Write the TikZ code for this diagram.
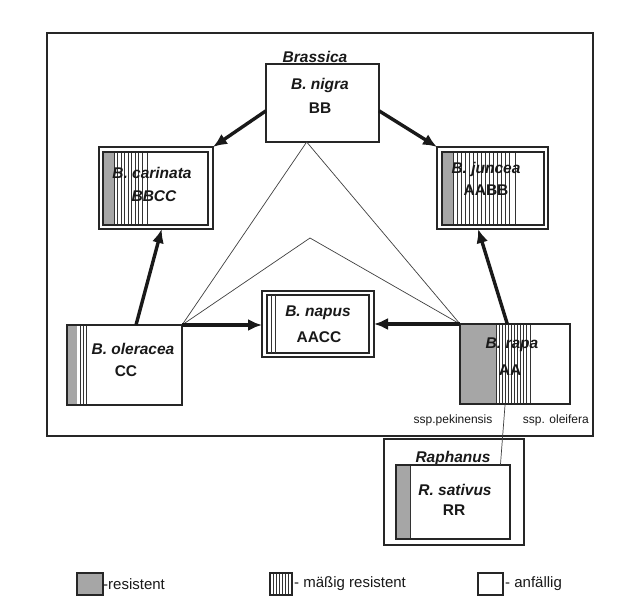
\documentclass[tikz,border=0pt]{standalone}
\usepackage{fontspec}
\setmainfont{Liberation Sans}
\usetikzlibrary{arrows.meta,calc}
\newcommand\nmfont{\fontsize{15.5}{18}\selectfont\bfseries\itshape}
\newcommand\gnfont{\fontsize{15.5}{18}\selectfont\bfseries}
\newcommand\lgfont{\fontsize{15}{18}\selectfont}
\newcommand\sspfont{\fontsize{12}{14}\selectfont}
\begin{document}
\begin{tikzpicture}[x=1pt,y=-1pt,
  box/.style={draw=black!85,line width=1.3pt,inner sep=0pt,outer sep=0pt,anchor=north west},
  res/.style={fill=black!35},
  stripe/.style={draw=black!80,line width=0.6pt},
  thinln/.style={draw=black!75,line width=0.7pt},
  thick arrow/.style={draw=black!90,line width=3.4pt,-{Latex[length=14pt,width=12pt]}},
  txt/.style={text=black!90,inner sep=0pt}]
\fill[white] (0,0) rectangle (618,609);
\useasboundingbox (0,0) rectangle (618,609);

% Brassica frame
\node[box,minimum width=546pt,minimum height=403pt] (brassica) at (47,33) {};
\node[txt] (brassicalbl) at (315,57) {\nmfont Brassica};

% B. nigra
\node[box,minimum width=113pt,minimum height=78pt] (nigra) at (266,64) {};
\node[txt] (nigralbl) at (320,85) {\nmfont B. nigra};
\node[txt] (nigragen) at (320,108) {\gnfont BB};

% B. carinata
\node[box,minimum width=114pt,minimum height=82pt] (carinata) at (99,147) {};
\fill[res] (103,152) rectangle (114,225);
\foreach \x in {117.5,121,...,144} \draw[stripe] (\x,152) -- (\x,225);
\draw[stripe,line width=1pt] (114,152) -- (114,225);
\draw[stripe,line width=1pt] (147,152) -- (147,225);
\node[box,minimum width=105pt,minimum height=73pt] (carinatain) at (103,152) {};
\node[txt] (carinatalbl) at (152,173) {\nmfont B. carinata};
\node[txt] (carinatagen) at (154,196) {\nmfont BBCC};

% B. juncea
\node[box,minimum width=111pt,minimum height=82pt] (juncea) at (437,147) {};
\fill[res] (442,152) rectangle (453,225);
\foreach \x in {457,461,...,512} \draw[stripe] (\x,152) -- (\x,225);
\draw[stripe,line width=1pt] (453,152) -- (453,225);
\draw[stripe,line width=1pt] (515,152) -- (515,225);
\node[box,minimum width=102pt,minimum height=73pt] (junceain) at (442,152) {};
\node[txt] (juncealbl) at (486,169) {\nmfont B. juncea};
\node[txt] (junceagen) at (486,190) {\gnfont AABB};

% B. oleracea
\fill[res] (67,325) rectangle (77,405);
\draw[stripe] (80,325) -- (80,405);
\draw[stripe] (83,325) -- (83,405);
\draw[stripe,line width=1pt] (86,325) -- (86,405);
\node[box,minimum width=115pt,minimum height=80pt] (oleracea) at (67,325) {};
\node[txt] (oleracealbl) at (133,349) {\nmfont B. oleracea};
\node[txt] (oleraceagen) at (126,371) {\gnfont CC};

% B. napus
\node[box,minimum width=112pt,minimum height=66pt] (napus) at (262,291) {};
\node[box,minimum width=102pt,minimum height=58pt] (napusin) at (267,295) {};
\draw[stripe] (271,295) -- (271,353);
\draw[stripe] (275,295) -- (275,353);
\node[txt] (napuslbl) at (318,313) {\nmfont B. napus};
\node[txt] (napusgen) at (319,337) {\gnfont AACC};

% B. rapa
\fill[res] (460,324) rectangle (496,404);
\foreach \x in {499,502,...,528} \draw[stripe] (\x,324) -- (\x,404);
\draw[stripe,line width=1pt] (496,324) -- (496,404);
\draw[stripe,line width=1pt] (530,324) -- (530,404);
\node[box,minimum width=110pt,minimum height=80pt] (rapa) at (460,324) {};
\node[txt] (rapalbl) at (512,345) {\nmfont B. rapa};
\node[txt] (rapagen) at (510,370) {\gnfont AA};
\node[txt] (pekin) at (453,420) {\sspfont ssp.pekinensis};
\node[txt,anchor=east] (oleif) at (589,420) {\sspfont ssp. oleifera};

% Raphanus
\node[box,minimum width=140pt,minimum height=106pt] (raphanus) at (384,439) {};
\node[txt] (raphanuslbl) at (453,458) {\nmfont Raphanus};
\fill[res] (396,465) rectangle (410,539);
\draw[stripe,line width=1pt] (410,465) -- (410,539);
\node[box,minimum width=114pt,minimum height=74pt] (sativus) at (396,465) {};
\node[txt] (sativuslbl) at (455,490) {\nmfont R. sativus};
\node[txt] (sativusgen) at (454,510) {\gnfont RR};

% thin line rapa -> sativus
\draw[thinln] ($(rapa.south west)!0.41!(rapa.south east)$) -- ($(sativus.north west)!0.916!(sativus.north east)$);

% triangles
\coordinate (apexa) at ($(nigra.south west)!0.36!(nigra.south east)$);
\coordinate (apexb) at (310,238);
\draw[thinln] (oleracea.north east) -- (apexa) -- (rapa.north west);
\draw[thinln] (oleracea.north east) -- (apexb) -- (rapa.north west);

% thick arrows
\draw[thick arrow] ($(nigra.north west)!0.6!(nigra.south west)$) -- (carinata.north east);
\draw[thick arrow] ($(nigra.north east)!0.6!(nigra.south east)$) -- (juncea.north west);
\draw[thick arrow] ($(oleracea.north west)!0.6!(oleracea.north east)$) -- ($(carinata.south west)!0.55!(carinata.south east)$);
\draw[thick arrow] ($(rapa.north west)!0.43!(rapa.north east)$) -- ($(juncea.south west)!0.37!(juncea.south east)$);
\draw[thick arrow] (oleracea.north east) -- (oleracea.north east -| napus.west);
\draw[thick arrow] (rapa.north west) -- (rapa.north west -| napus.east);

% legend
\node[box,res,minimum width=26pt,minimum height=22pt] (lgres) at (77,573) {};
\node[txt,anchor=west] (lgreslbl) at (lgres.east) {\lgfont -resistent};
\foreach \x in {273,276,...,290} \draw[stripe] (\x,573) -- (\x,595);
\node[box,minimum width=22pt,minimum height=22pt] (lgmod) at (270,573) {};
\node[txt,anchor=west] (lgmodlbl) at ([xshift=2pt]lgmod.east) {\lgfont - mäßig resistent};
\node[box,minimum width=25pt,minimum height=22pt] (lgsus) at (478,573) {};
\node[txt,anchor=west] (lgsuslbl) at ([xshift=2pt]lgsus.east) {\lgfont - anfällig};
\end{tikzpicture}
\end{document}
